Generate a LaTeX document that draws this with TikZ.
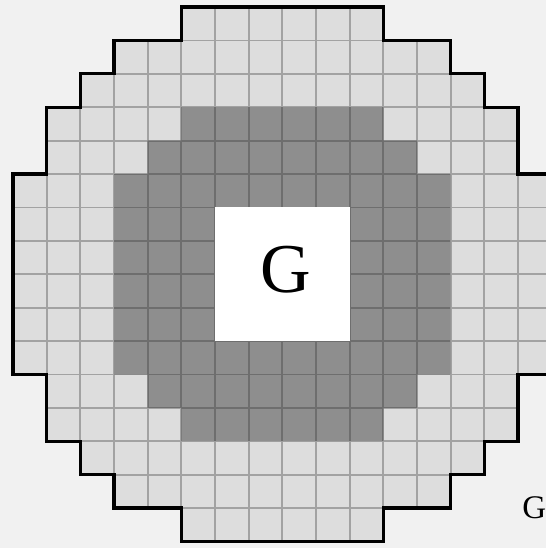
\documentclass[tikz,border=0pt]{standalone}
\usepackage{fontspec}
\setmainfont{Liberation Serif}
\definecolor{bgc}{HTML}{F1F1F1}
\definecolor{lightc}{HTML}{DDDDDD}
\definecolor{darkc}{HTML}{8E8E8E}
\definecolor{lgrid}{HTML}{A2A2A2}
\definecolor{dgrid}{HTML}{6E6E6E}
\tikzset{
  outline/.style={draw=black, line width=1.6pt, line join=miter},
  lightgrid/.style={draw=lgrid, line width=0.9pt},
  darkgrid/.style={draw=dgrid, line width=0.9pt},
  label/.style={inner sep=0pt, text=black}
}
\begin{document}
\begin{tikzpicture}[x=16.835pt, y=-16.7pt]
% bounding box: pixel (0,0)-(546,548), origin at pixel (13,7)
\useasboundingbox (-0.3861,-0.2096) rectangle (15.8301,16.1976);
\fill[bgc] (-0.3861,-0.2096) rectangle (15.8301,16.1976);
\clip (-0.3861,-0.2096) rectangle (15.8301,16.1976);
\def\outerpath{(5,0) -- (11,0) -- (11,1) -- (13,1) -- (13,2) -- (14,2) -- (14,3) -- (15,3) -- (15,5) -- (16,5) -- (16,11) -- (15,11) -- (15,13) -- (14,13) -- (14,14) -- (13,14) -- (13,15) -- (11,15) -- (11,16) -- (5,16) -- (5,15) -- (3,15) -- (3,14) -- (2,14) -- (2,13) -- (1,13) -- (1,11) -- (0,11) -- (0,5) -- (1,5) -- (1,3) -- (2,3) -- (2,2) -- (3,2) -- (3,1) -- (5,1) -- cycle}
\def\darkpath{(5,3) -- (11,3) -- (11,4) -- (12,4) -- (12,5) -- (13,5) -- (13,11) -- (12,11) -- (12,12) -- (11,12) -- (11,13) -- (5,13) -- (5,12) -- (4,12) -- (4,11) -- (3,11) -- (3,5) -- (4,5) -- (4,4) -- (5,4) -- cycle}
% light region
\fill[lightc] \outerpath;
\begin{scope}
  \clip \outerpath;
  \foreach \i in {1,...,15} {
    \draw[lightgrid] (\i,0) -- (\i,16);
    \draw[lightgrid] (0,\i) -- (16,\i);
  }
\end{scope}
% dark region
\fill[darkc] \darkpath;
\begin{scope}
  \clip \darkpath;
  \foreach \i in {4,...,12} {
    \draw[darkgrid] (\i,3) -- (\i,13);
  }
  \foreach \i in {4,...,12} {
    \draw[darkgrid] (3,\i) -- (13,\i);
  }
\end{scope}
% central white square
\fill[white] (6,6) rectangle (10,10);
\node[label, font=\fontsize{35}{35}\selectfont] (g) at (8.09,7.85) {G};
% outline
\draw[outline] \outerpath;
% caption fragment
\node[label, anchor=south west, font=\fontsize{16.5}{16.5}\selectfont] (cap) at (15.12,15.35) {G};
\end{tikzpicture}
\end{document}
